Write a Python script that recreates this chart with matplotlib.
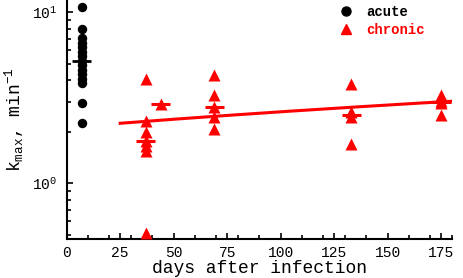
import numpy as np
import matplotlib
matplotlib.use('Agg')
import matplotlib.pyplot as plt
from matplotlib.lines import Line2D
from matplotlib.ticker import MultipleLocator

# monospace look for everything, mathtext too
plt.rcParams['font.family'] = ['Liberation Mono', 'DejaVu Sans']
plt.rcParams['mathtext.fontset'] = 'custom'
plt.rcParams['mathtext.rm'] = 'Liberation Mono'
plt.rcParams['mathtext.it'] = 'Liberation Mono'
plt.rcParams['mathtext.default'] = 'regular'

# acute group (all at one time point)
acute_day = 7
acute_k = [10.8, 7.94, 7.06, 6.64, 6.25, 5.88, 5.53, 5.21,
           4.90, 4.61, 4.34, 4.08, 3.84, 2.95, 2.24]

# chronic group
chronic_days = [37] * 7 + [44] + [69] * 5 + [133] * 4 + [175] * 4
chronic_k = [4.05, 2.32, 2.0, 1.77, 1.66, 1.55, 0.51,
             2.9,
             4.28, 3.29, 2.78, 2.43, 2.08,
             3.79, 2.62, 2.43, 1.7,
             3.3, 3.05, 2.95, 2.5]

fit_start, fit_end = 25, 180
bar_half = 4.5

fig = plt.figure(figsize=(4.63, 2.78), dpi=100)
ax = fig.add_axes([0.144, 0.140, 0.832, 0.86])
ax.set_yscale('log')

ax.plot(np.full(len(acute_k), acute_day), acute_k, 'o', color='black',
        ms=6.8, mec='none', clip_on=False, zorder=3)
ax.plot(chronic_days, chronic_k, '^', color='red', ms=8.5, mec='none',
        clip_on=False, zorder=3)

# median bars
ax.hlines(np.median(acute_k), acute_day - bar_half, acute_day + bar_half,
          color='black', lw=2, zorder=4)
cd = np.array(chronic_days)
ck = np.array(chronic_k)
for d in np.unique(cd):
    ax.hlines(np.median(ck[cd == d]), d - bar_half, d + bar_half,
              color='red', lw=2.2, zorder=4)

# linear fit of chronic values
b, a = np.polyfit(cd, ck, 1)
xs = np.linspace(fit_start, fit_end, 200)
ax.plot(xs, a + b * xs, color='red', lw=2.2, zorder=2)

ax.set_xlim(0, 180)
ax.set_ylim(0.473, 11.8)
ax.xaxis.set_major_locator(MultipleLocator(25))
ax.xaxis.set_minor_locator(MultipleLocator(10))

for s in ['top', 'right']:
    ax.spines[s].set_visible(False)
for s in ['left', 'bottom']:
    ax.spines[s].set_linewidth(1.5)

ax.tick_params(which='major', direction='in', length=4, width=1.2,
               labelsize=10.5, pad=5)
ax.tick_params(which='minor', direction='in', length=3, width=1.2)
ax.tick_params(axis='y', which='major', pad=7)

ax.set_xlabel('days after infection', fontsize=13, labelpad=0)
ax.set_ylabel('k$_{max}$, min$^{-1}$', fontsize=13, labelpad=4)

handles = [Line2D([], [], marker='o', color='black', ls='none', ms=6.5),
           Line2D([], [], marker='^', color='red', ls='none', ms=7)]
ax.legend(handles, ['acute', 'chronic'], loc='upper left',
          bbox_to_anchor=(0.67, 1.03), frameon=False,
          prop={'weight': 'bold', 'size': 10}, labelcolor=['black', 'red'],
          handletextpad=0.9, labelspacing=0.25, handlelength=1.2)

fig.savefig('out.png', dpi=100)
